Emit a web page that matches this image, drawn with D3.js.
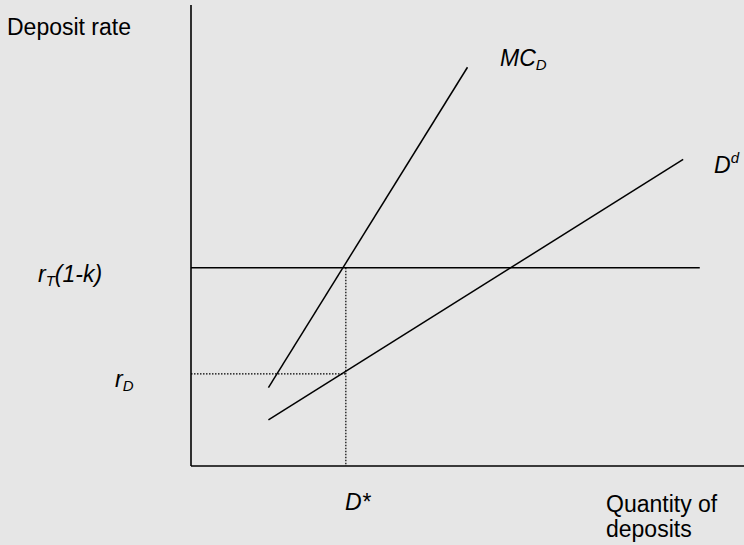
<!DOCTYPE html>
<html>
<head>
<meta charset="utf-8">
<script src="https://cdn.jsdelivr.net/npm/d3@7"></script>
<style>
  html, body { margin: 0; padding: 0; background: #e6e6e6; }
  svg { display: block; }
  text { font-family: Arial, "Liberation Sans", sans-serif; font-size: 23px; fill: #000; }
</style>
</head>
<body>
<div id="d3"></div>
<script>
// curves in chart units (quantity 0-100, rate 0-100)
const mcD = [[14, 17], [50, 86.5]]
const demand = [[14, 10], [89, 66.5]]
const rateLine = [[0, 43], [92, 43]]
const dStar = 28
const rD = 20

const width = 744
const height = 545

const x = d3.scaleLinear().domain([0, 100]).range([191, 744])
const y = d3.scaleLinear().domain([0, 100]).range([466, 5])

const svg = d3.select('#d3')
  .append('svg')
  .attr('width', width)
  .attr('height', height)

const line = d3.line().x(d => x(d[0])).y(d => y(d[1]))

// axes
svg.append('line')
  .attr('x1', x(0)).attr('y1', y(100))
  .attr('x2', x(0)).attr('y2', y(0))
  .attr('stroke', '#000').attr('stroke-width', 1.6)
svg.append('line')
  .attr('x1', x(0)).attr('y1', y(0))
  .attr('x2', x(100)).attr('y2', y(0))
  .attr('stroke', '#000').attr('stroke-width', 1.6)

// dotted guides
svg.append('path')
  .attr('d', line([[0, rD], [dStar, rD]]))
  .attr('stroke', '#000').attr('stroke-width', 1.2)
  .attr('stroke-dasharray', '1.5,1.5').attr('fill', 'none')
svg.append('path')
  .attr('d', line([[dStar, 43], [dStar, 0]]))
  .attr('stroke', '#000').attr('stroke-width', 1.2)
  .attr('stroke-dasharray', '1.5,1.5').attr('fill', 'none')

// curves
;[mcD, demand, rateLine].forEach(d => {
  svg.append('path')
    .attr('d', line(d))
    .attr('stroke', '#000')
    .attr('stroke-width', 1.5)
    .attr('fill', 'none')
})

// labels
svg.append('text').attr('x', 7).attr('y', 35).text('Deposit rate')

const q = svg.append('text').attr('x', 606).attr('y', 512)
q.append('tspan').text('Quantity of')
q.append('tspan').attr('x', 606).attr('dy', 25).text('deposits')

const mc = svg.append('text').attr('x', 500).attr('y', 66).style('font-style', 'italic')
mc.append('tspan').text('MC')
mc.append('tspan').attr('dy', 4).style('font-size', '15px').text('D')

const dd = svg.append('text').attr('x', 714).attr('y', 173).style('font-style', 'italic')
dd.append('tspan').text('D')
dd.append('tspan').attr('dy', -10).style('font-size', '15px').text('d')

const rt = svg.append('text').attr('x', 38).attr('y', 282).style('font-style', 'italic')
rt.append('tspan').text('r')
rt.append('tspan').attr('dy', 4).style('font-size', '15px').text('T')
rt.append('tspan').attr('dy', -4).text('(1-k)')

const rd = svg.append('text').attr('x', 115).attr('y', 387).style('font-style', 'italic')
rd.append('tspan').text('r')
rd.append('tspan').attr('dy', 4).style('font-size', '15px').text('D')

svg.append('text').attr('x', 345).attr('y', 510).style('font-style', 'italic').text('D*')
</script>
</body>
</html>
